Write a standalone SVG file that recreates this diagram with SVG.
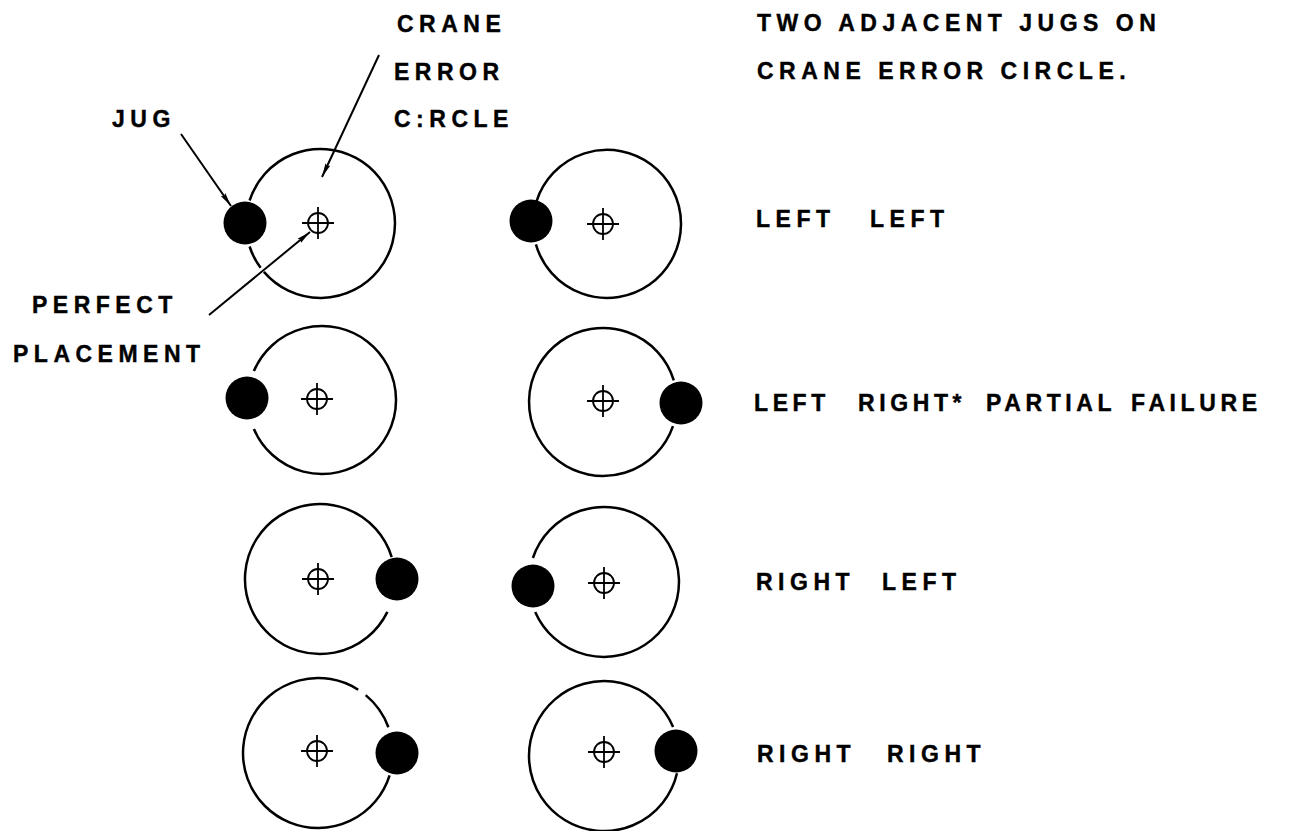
<svg xmlns="http://www.w3.org/2000/svg" width="1291" height="831" viewBox="0 0 1291 831">
<style>
.t{font-family:"Liberation Sans",Arial,sans-serif;font-weight:bold;font-size:23px;letter-spacing:5.5px;fill:#000;stroke:#000;stroke-width:0.4}
.ec{fill:none;stroke:#000;stroke-width:2.5}
.jug{fill:#000}
.ch circle{fill:none;stroke:#000;stroke-width:1.8}
.ch path{stroke:#000;stroke-width:1.8}
.ar{stroke:#000;stroke-width:2;fill:none;marker-end:url(#ah)}
</style>
<defs>
<marker id="ah" markerUnits="userSpaceOnUse" markerWidth="15" markerHeight="7" refX="14" refY="3.5" orient="auto">
<path d="M0,0.8 L14,3.5 L0,6.2 L2,3.5 z" fill="#000"/>
</marker>
<g id="cross" class="ch"><circle cx="0" cy="0" r="10"/><path d="M-16,0 H16 M0,-16 V16"/></g>
</defs>
<rect width="1291" height="831" fill="#fff"/>

<g id="connectors">
<line class="ar" x1="181" y1="134" x2="231" y2="206"/>
<line class="ar" x1="379" y1="55" x2="322" y2="177"/>
<line class="ar" x1="209" y1="315" x2="310" y2="232"/>
</g>

<g id="r1-left">
<path class="ec" d="M249.6 200.5 A74.5 74.5 0 1 1 263.9 271.9 M260.6 267.8 A74.5 74.5 0 0 1 249.6 246.5"/>
<circle class="jug" cx="245" cy="223" r="21.5"/>
<use href="#cross" x="318" y="223"/>
</g>
<g id="r1-right">
<path class="ec" d="M536.6 201.1 A74 74 0 1 1 535.9 244.4"/>
<circle class="jug" cx="531" cy="221" r="21.5"/>
<use href="#cross" x="603" y="224"/>
</g>
<g id="r2-left">
<path class="ec" d="M253.9 371.1 A74 74 0 1 1 253.9 428.9"/>
<circle class="jug" cx="247" cy="398" r="21.5"/>
<use href="#cross" x="317" y="399"/>
</g>
<g id="r2-right">
<path class="ec" d="M673 426.1 A74 74 0 1 1 673.8 380.4"/>
<circle class="jug" cx="681" cy="403" r="21.5"/>
<use href="#cross" x="603" y="401"/>
</g>
<g id="r3-left">
<path class="ec" d="M387.4 611.9 A75 75 0 1 1 391.7 557.1"/>
<circle class="jug" cx="397" cy="579" r="21.5"/>
<use href="#cross" x="318" y="579"/>
</g>
<g id="r3-right">
<path class="ec" d="M532.9 558 A75 75 0 1 1 535.2 611.9"/>
<circle class="jug" cx="533" cy="586" r="21.5"/>
<use href="#cross" x="604" y="583"/>
</g>
<g id="r4-left">
<path class="ec" d="M389.6 775.4 A75 75 0 1 1 358.2 689.7 M365.7 695.1 A75 75 0 0 1 388.4 727.2"/>
<circle class="jug" cx="397" cy="753" r="21.5"/>
<use href="#cross" x="317" y="751"/>
</g>
<g id="r4-right">
<path class="ec" d="M677 773.3 A75 75 0 1 1 673.1 726.9"/>
<circle class="jug" cx="676" cy="751" r="21.5"/>
<use href="#cross" x="604" y="752"/>
</g>

<g id="labels">
<text class="t" x="397" y="32">CRANE</text>
<text class="t" x="394" y="80">ERROR</text>
<text class="t" x="394" y="127">C:RCLE</text>
<text class="t" x="112" y="127">JUG</text>
<text class="t" x="32" y="313">PERFECT</text>
<text class="t" x="13" y="362">PLACEMENT</text>
<text class="t" x="757" y="31">TWO ADJACENT JUGS ON</text>
<text class="t" x="757" y="79">CRANE ERROR CIRCLE.</text>
<text class="t" y="227"><tspan x="756">LEFT</tspan><tspan x="870">LEFT</tspan></text>
<text class="t" y="411" style="letter-spacing:4.6px"><tspan x="754">LEFT</tspan><tspan x="858">RIGHT*</tspan><tspan x="986">PARTIAL</tspan><tspan x="1131">FAILURE</tspan></text>
<text class="t" y="590"><tspan x="756">RIGHT</tspan><tspan x="882">LEFT</tspan></text>
<text class="t" y="762"><tspan x="757">RIGHT</tspan><tspan x="887">RIGHT</tspan></text>
</g>
</svg>
